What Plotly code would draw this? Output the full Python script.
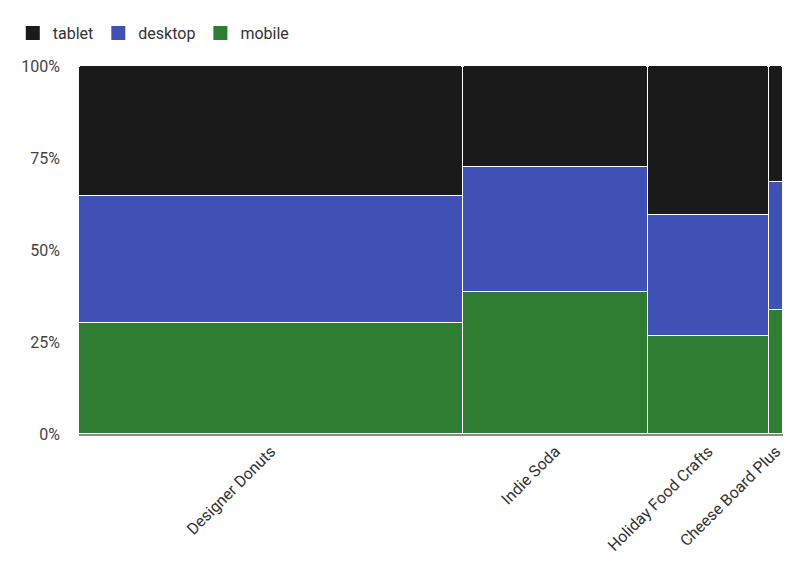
import plotly.graph_objects as go

categories = ["Designer Donuts", "Indie Soda", "Holiday Food Crafts", "Cheese Board Plus"]
totals = [383, 184.5, 120.5, 14.3]          # relative size of each category (bar width)
mobile = [30.2, 38.6, 26.6, 33.8]           # % share
desktop = [34.6, 33.9, 32.9, 34.8]          # % share
tablet = [35.2, 27.5, 40.5, 31.4]           # % share
y_ticks = [0, 25, 50, 75, 100]
y_tick_labels = ["0%", "25%", "50%", "75%", "100%"]

colors = {"tablet": "#1a1a1a", "desktop": "#3f51b5", "mobile": "#2e7d32"}

starts = []
acc = 0
for t in totals:
    starts.append(acc)
    acc += t
centers = [s + w / 2 for s, w in zip(starts, totals)]

fig = go.Figure()
for name, vals in [("mobile", mobile), ("desktop", desktop), ("tablet", tablet)]:
    fig.add_trace(go.Bar(
        name=name, x=centers, y=vals, width=totals,
        marker=dict(color=colors[name], line=dict(color="white", width=1.2), cornerradius=3),
        showlegend=False,
    ))

# legend entries (square swatches)
for name in ["tablet", "desktop", "mobile"]:
    fig.add_trace(go.Scatter(
        name=name, x=[None], y=[None], mode="markers",
        marker=dict(symbol="square", size=14, color=colors[name]),
        showlegend=True,
    ))

fig.update_layout(
    barmode="stack",
    width=798, height=571,
    margin=dict(l=71, r=23, t=58, b=145, autoexpand=False),
    paper_bgcolor="white", plot_bgcolor="white",
    font=dict(family="Roboto, Arial, sans-serif", size=16, color="#444"),
    showlegend=True,
    legend=dict(orientation="h", xref="container", yref="container", x=0.006, y=0.986,
                xanchor="left", yanchor="top", font=dict(size=16, color="#333"),
                itemsizing="trace", itemwidth=30, traceorder="normal"),
    bargap=0,
)
fig.update_xaxes(range=[0, acc], tickmode="array", tickvals=centers, ticktext=categories,
                 tickangle=-45, showgrid=False, zeroline=False, showline=True,
                 linecolor="#8a8a8a", linewidth=1.5, ticks="", tickfont=dict(size=16, color="#333"))
fig.update_yaxes(range=[0, 100], tickmode="array", tickvals=y_ticks, ticktext=y_tick_labels,
                 showgrid=False, zeroline=False, showline=False, ticks="",
                 ticklabelstandoff=18, tickfont=dict(size=16, color="#444"))

fig.write_html("out.html")
